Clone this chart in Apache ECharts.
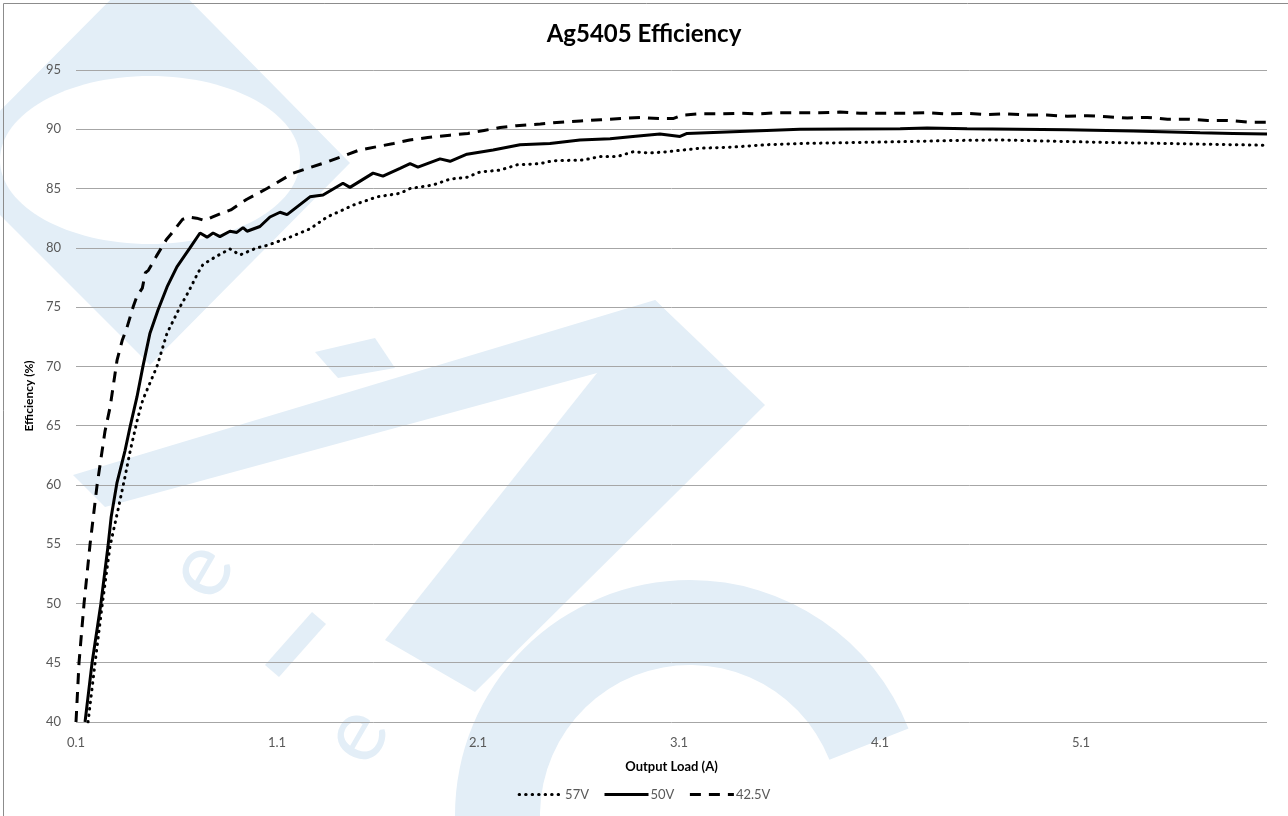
<!DOCTYPE html>
<html>
<head>
<meta charset="utf-8">
<script src="https://cdn.jsdelivr.net/npm/echarts@6/dist/echarts.min.js"></script>
<style>
html,body{margin:0;padding:0;background:#fff;}
#chart{width:1288px;height:816px;}
</style>
</head>
<body>
<div id="chart"></div>
<script>
// ---- data ----
const seriesNames = ['57V', '50V', '42.5V'];
const xTickLabels = ['0.1', '1.1', '2.1', '3.1', '4.1', '5.1'];

const load57 = [0.16, 0.195, 0.229, 0.269, 0.309, 0.344, 0.37, 0.408, 0.433, 0.503, 0.553, 0.62, 0.66, 0.707, 0.732, 0.80, 0.866, 0.916, 1.0, 1.05, 1.15, 1.264, 1.349, 1.428, 1.478, 1.598, 1.712, 1.762, 1.876, 1.961, 2.045, 2.11, 2.209, 2.294, 2.408, 2.473, 2.622, 2.707, 2.792, 2.871, 2.956, 3.04, 3.12, 3.204, 3.369, 3.538, 3.702, 3.866, 4.035, 4.2, 4.45, 4.697, 4.946, 5.195, 5.528, 5.856, 6.02];
const eff57  = [40, 45, 49.7, 54.8, 57.9, 60.7, 62.9, 65.7, 67.2, 70.0, 72.8, 75.1, 76.3, 77.9, 78.6, 79.3, 79.9, 79.4, 80.0, 80.2, 80.8, 81.6, 82.6, 83.2, 83.6, 84.3, 84.6, 85.0, 85.3, 85.8, 85.95, 86.4, 86.55, 87.0, 87.1, 87.35, 87.4, 87.7, 87.7, 88.1, 88.0, 88.1, 88.25, 88.4, 88.5, 88.7, 88.8, 88.85, 88.9, 88.95, 89.05, 89.1, 89.0, 88.9, 88.8, 88.7, 88.65];

const load50 = [0.145, 0.18, 0.224, 0.259, 0.275, 0.304, 0.344, 0.369, 0.403, 0.433, 0.468, 0.508, 0.553, 0.602, 0.667, 0.717, 0.752, 0.782, 0.816, 0.866, 0.90, 0.931, 0.951, 1.015, 1.065, 1.115, 1.15, 1.264, 1.329, 1.428, 1.463, 1.578, 1.627, 1.712, 1.762, 1.801, 1.911, 1.961, 2.045, 2.175, 2.309, 2.458, 2.607, 2.757, 2.871, 3.005, 3.105, 3.14, 3.369, 3.702, 4.2, 4.334, 4.533, 4.782, 5.03, 5.359, 5.692, 5.856, 6.025];
const eff50  = [40, 45, 50, 54.8, 57.3, 60.2, 62.9, 64.9, 67.4, 70.0, 72.8, 74.75, 76.7, 78.4, 80.0, 81.25, 80.9, 81.25, 80.95, 81.4, 81.3, 81.7, 81.4, 81.8, 82.6, 83.0, 82.8, 84.3, 84.45, 85.45, 85.1, 86.3, 86.05, 86.7, 87.1, 86.8, 87.5, 87.3, 87.9, 88.25, 88.7, 88.8, 89.1, 89.2, 89.4, 89.6, 89.4, 89.65, 89.8, 90.0, 90.05, 90.1, 90.05, 90.0, 89.95, 89.85, 89.7, 89.65, 89.6];

const load425 = [0.10, 0.115, 0.14, 0.17, 0.205, 0.244, 0.27, 0.304, 0.33, 0.354, 0.384, 0.403, 0.43, 0.445, 0.46, 0.50, 0.55, 0.57, 0.63, 0.66, 0.70, 0.74, 0.78, 0.82, 0.87, 0.95, 1.05, 1.18, 1.35, 1.51, 1.68, 1.76, 1.85, 1.96, 2.05, 2.13, 2.21, 2.29, 2.41, 2.51, 2.61, 2.71, 2.81, 2.91, 3.0, 3.07, 3.12, 3.20, 3.30, 3.40, 3.50, 3.60, 3.70, 3.80, 3.90, 4.0, 4.10, 4.23, 4.33, 4.43, 4.53, 4.63, 4.73, 4.83, 4.93, 5.03, 5.13, 5.23, 5.33, 5.43, 5.53, 5.63, 5.73, 5.83, 5.94, 6.02];
const eff425  = [40, 45, 50, 55, 60, 64.5, 66.6, 70.5, 72.2, 73.3, 75.0, 75.9, 76.6, 77.9, 78.1, 79.3, 80.7, 81.1, 82.4, 82.6, 82.5, 82.3, 82.6, 82.9, 83.2, 84.1, 85.0, 86.3, 87.25, 88.25, 88.8, 89.1, 89.3, 89.5, 89.65, 89.9, 90.15, 90.3, 90.45, 90.6, 90.7, 90.8, 90.9, 91.0, 90.9, 90.9, 91.2, 91.3, 91.3, 91.35, 91.3, 91.4, 91.4, 91.4, 91.45, 91.35, 91.35, 91.35, 91.4, 91.3, 91.35, 91.25, 91.3, 91.2, 91.2, 91.1, 91.15, 91.05, 90.95, 91.0, 90.85, 90.85, 90.75, 90.75, 90.6, 90.6];

// ---- axis setup ----
const xStart = 0.1;      // first tick label value
const xEnd = 6.025;      // right edge of plot
const yMin = 40, yMax = 95, yStep = 5;

function pairs(xs, ys) { return xs.map((x, i) => [x - xStart, ys[i]]); }

const FONT = 'Lato';
const chart = echarts.init(document.getElementById('chart'));
const W = '#e3eef7';

chart.setOption({
  backgroundColor: '#ffffff',
  animation: false,
  title: {
    text: 'Ag5405 Efficiency',
    left: 'center', top: 17,
    textStyle: { fontFamily: FONT, fontSize: 24, fontWeight: 'bold', color: '#000' }
  },
  grid: { left: 76, right: 21, top: 70, bottom: 94, containLabel: false },
  graphic: [
    { type: 'polygon', z: -10, silent: true, shape: { points: [[150, -40], [350, 163], [150, 365], [-52, 163]] }, style: { fill: W } },
    { type: 'ellipse', z: -9, silent: true, shape: { cx: 150, cy: 160, rx: 150, ry: 84 }, style: { fill: '#fff' } },
    { type: 'polygon', z: -10, silent: true, shape: { points: [[73, 475], [655, 300], [700, 345], [105, 507]] }, style: { fill: W } },
    { type: 'polygon', z: -10, silent: true, shape: { points: [[655, 300], [765, 405], [475, 692], [385, 640]] }, style: { fill: W } },
    { type: 'polygon', z: -10, silent: true, shape: { points: [[315, 352], [375, 338], [395, 368], [338, 378]] }, style: { fill: W } },
    { type: 'polygon', z: -10, silent: true, shape: { points: [[265, 665], [312, 612], [326, 624], [279, 677]] }, style: { fill: W } },
    { type: 'sector', z: -10, silent: true, shape: { cx: 690, cy: 815, r: 235, r0: 150, startAngle: Math.PI * 0.5, endAngle: Math.PI * 1.88, clockwise: true }, style: { fill: W } },
    { type: 'text', z: -10, silent: true, x: 200, y: 570, rotation: Math.PI / 3, style: { text: 'e', fontSize: 90, fontFamily: FONT, fill: W, align: 'center', verticalAlign: 'middle' } },
    { type: 'text', z: -10, silent: true, x: 355, y: 735, rotation: Math.PI / 3, style: { text: 'e', fontSize: 90, fontFamily: FONT, fill: W, align: 'center', verticalAlign: 'middle' } },
    { type: 'polyline', z: 100, silent: true, shape: { points: [[3.5, 900], [3.5, 3.5], [1400, 3.5]] }, style: { stroke: '#8c8c8c', lineWidth: 1, fill: null } }
  ],
  legend: {
    bottom: 10, left: 'center',
    data: seriesNames,
    itemWidth: 44, itemHeight: 12, itemGap: 14,
    textStyle: { fontFamily: FONT, fontSize: 13, color: '#595959', padding: [0, 0, 0, -3] },
    itemStyle: { opacity: 0 },
    lineStyle: { width: 3 }
  },
  xAxis: {
    type: 'value',
    min: 0, max: xEnd - xStart, interval: 1,
    name: 'Output Load (A)', nameLocation: 'middle', nameGap: 38,
    nameTextStyle: { fontFamily: FONT, fontSize: 13, fontWeight: 'bold', color: '#000' },
    axisLine: { show: false }, axisTick: { show: false },
    splitLine: { show: false },
    axisLabel: {
      fontFamily: FONT, fontSize: 13, color: '#595959', margin: 14,
      showMaxLabel: false,
      formatter: function (v) {
        const k = Math.round(v);
        if (Math.abs(v - k) > 1e-6) return '';
        return xTickLabels[k] !== undefined ? xTickLabels[k] : '';
      }
    }
  },
  yAxis: {
    type: 'value', min: yMin, max: yMax, interval: yStep,
    name: 'Efficiency (%)', nameLocation: 'middle', nameGap: 33, nameRotate: 90,
    nameTextStyle: { fontFamily: FONT, fontSize: 12, fontWeight: 'bold', color: '#000' },
    axisLine: { show: false }, axisTick: { show: false },
    splitLine: { show: true, lineStyle: { color: '#a6a6a6', width: 1 } },
    axisLabel: { fontFamily: FONT, fontSize: 13, color: '#595959', margin: 15 }
  },
  series: [
    { name: '57V', type: 'line', data: pairs(load57, eff57), showSymbol: false, symbol: 'none', z: 3,
      lineStyle: { color: '#000', width: 3, type: [0.5, 6], cap: 'round' }, itemStyle: { color: '#000' } },
    { name: '50V', type: 'line', data: pairs(load50, eff50), showSymbol: false, symbol: 'none', z: 4,
      lineStyle: { color: '#000', width: 3, type: 'solid' }, itemStyle: { color: '#000' } },
    { name: '42.5V', type: 'line', data: pairs(load425, eff425), showSymbol: false, symbol: 'none', z: 5,
      lineStyle: { color: '#000', width: 3, type: [11, 8] }, itemStyle: { color: '#000' } }
  ]
});
</script>
</body>
</html>
